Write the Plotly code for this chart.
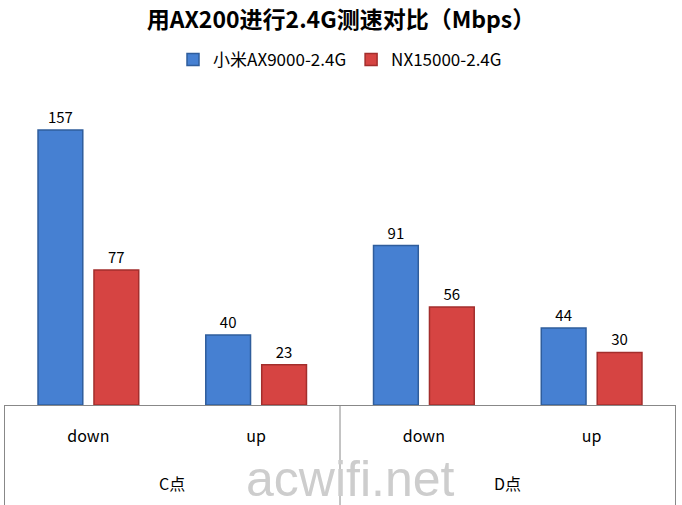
import plotly.graph_objects as go

groups = ["C点", "C点", "D点", "D点"]
directions = ["down", "up", "down", "up"]
series_names = ["小米AX9000-2.4G", "NX15000-2.4G"]
ax9000 = [157, 40, 91, 44]
nx15000 = [77, 23, 56, 30]

FONT = "Noto Sans CJK SC, Lato, sans-serif"
keys = [g + "-" + d for g, d in zip(groups, directions)]

fig = go.Figure()
fig.add_trace(go.Bar(
    name=series_names[0], x=keys, y=ax9000,
    text=ax9000, textposition="outside",
    textfont=dict(size=15, color="#000000", family=FONT),
    marker=dict(color="#4680D2", line=dict(color="#2F5D9C", width=1.5)),
    cliponaxis=False,
))
fig.add_trace(go.Bar(
    name=series_names[1], x=keys, y=nx15000,
    text=nx15000, textposition="outside",
    textfont=dict(size=15, color="#000000", family=FONT),
    marker=dict(color="#D64442", line=dict(color="#A32E2C", width=1.5)),
    cliponaxis=False,
))

PLOT_H = 315
fig.update_layout(
    width=682, height=505,
    paper_bgcolor="white", plot_bgcolor="white",
    margin=dict(l=4, r=6, t=90, b=100, autoexpand=False),
    font=dict(family=FONT, color="#000000", size=16),
    barmode="group", bargap=0.333, bargroupgap=0.2,
    title=dict(text="<b>用AX200进行2.4G测速对比（Mbps）</b>",
               x=0.5, xanchor="center", y=1 - 20 / 505, yanchor="middle",
               font=dict(size=23, family=FONT, color="#000000")),
    legend=dict(orientation="h", x=0.5, xanchor="center",
                y=1 - 60 / 505, yanchor="middle", yref="container",
                font=dict(size=17, family=FONT), itemwidth=30,
                bgcolor="rgba(0,0,0,0)"),
    xaxis=dict(type="category", showline=True, linecolor="#888888",
               linewidth=1, showgrid=False, zeroline=False, automargin=False,
               tickmode="array", tickvals=keys, ticktext=directions,
               ticks="outside", ticklen=17, tickcolor="rgba(0,0,0,0)",
               tickfont=dict(size=16, family=FONT, color="#000000")),
    yaxis=dict(range=[0, 179.8], visible=False, showgrid=False, zeroline=False),
)

# group dividers and group labels below the axis
for xv in [-0.5, 1.5, 3.5]:
    fig.add_shape(type="line", xref="x", yref="paper", x0=xv, x1=xv,
                  y0=0, y1=-100 / PLOT_H, line=dict(color="#888888", width=1))
for gi, g in enumerate(["C点", "D点"]):
    fig.add_annotation(text=g, xref="x", yref="paper", x=gi * 2 + 0.5,
                       y=-78 / PLOT_H, xanchor="center", yanchor="middle",
                       showarrow=False, font=dict(size=16, family=FONT, color="#000000"))

WM_FONT = "Liberation Sans Narrow, Liberation Sans, sans-serif"
fig.add_annotation(text="acwifi.net", xref="paper", yref="paper",
                   x=0.515, y=-78 / PLOT_H, xanchor="center", yanchor="middle",
                   yshift=4, showarrow=False,
                   font=dict(size=50, family=WM_FONT, color="#CDCDCD"))

fig.write_html("out.html", config={"displayModeBar": False},
               post_script="document.body.style.margin='0';")
